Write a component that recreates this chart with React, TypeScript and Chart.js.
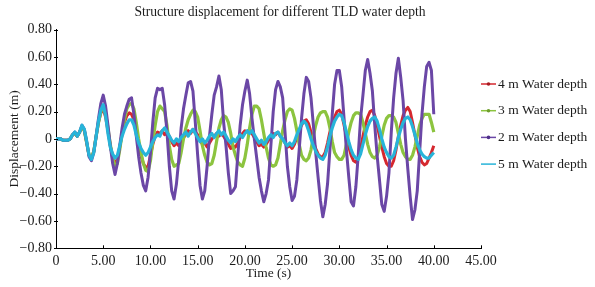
import React, { useEffect, useRef } from "react";
import Chart from "chart.js/auto";

const TITLE = "Structure displacement for different TLD water depth";
const X_TITLE = "Time (s)";
const Y_TITLE = "Displacement (m)";
const SERIES_NAMES = ["4 m Water depth", "3 m Water depth", "2 m Water depth", "5 m Water depth"];
const SERIES_COLORS = ["#d5282f", "#8cc43f", "#6b47a6", "#27b4d9"];
const MARKER_COLORS = ["#a81c22", "#6f9e2c", "#4f2f8a", "#27b4d9"];

const times = [
  0, 0.25, 0.5, 0.75, 1, 1.25, 1.5, 1.75,
  2, 2.25, 2.5, 2.75, 3, 3.25, 3.5, 3.75,
  4, 4.25, 4.5, 4.75, 5, 5.25, 5.5, 5.75,
  6, 6.25, 6.5, 6.75, 7, 7.25, 7.5, 7.75,
  8, 8.25, 8.5, 8.75, 9, 9.25, 9.5, 9.75,
  10, 10.25, 10.5, 10.75, 11, 11.25, 11.5, 11.75,
  12, 12.25, 12.5, 12.75, 13, 13.25, 13.5, 13.75,
  14, 14.25, 14.5, 14.75, 15, 15.25, 15.5, 15.75,
  16, 16.25, 16.5, 16.75, 17, 17.25, 17.5, 17.75,
  18, 18.25, 18.5, 18.75, 19, 19.25, 19.5, 19.75,
  20, 20.25, 20.5, 20.75, 21, 21.25, 21.5, 21.75,
  22, 22.25, 22.5, 22.75, 23, 23.25, 23.5, 23.75,
  24, 24.25, 24.5, 24.75, 25, 25.25, 25.5, 25.75,
  26, 26.25, 26.5, 26.75, 27, 27.25, 27.5, 27.75,
  28, 28.25, 28.5, 28.75, 29, 29.25, 29.5, 29.75,
  30, 30.25, 30.5, 30.75, 31, 31.25, 31.5, 31.75,
  32, 32.25, 32.5, 32.75, 33, 33.25, 33.5, 33.75,
  34, 34.25, 34.5, 34.75, 35, 35.25, 35.5, 35.75,
  36, 36.25, 36.5, 36.75, 37, 37.25, 37.5, 37.75,
  38, 38.25, 38.5, 38.75, 39, 39.25, 39.5, 39.75,
  40,
];

const depth4m = [
  0.00, 0.00, 0.00, -0.01, -0.01, -0.01, 0.00, 0.03,
  0.04, 0.02, 0.05, 0.09, 0.06, -0.03, -0.12, -0.14,
  -0.09, 0.02, 0.12, 0.19, 0.22, 0.16, 0.06, -0.05,
  -0.13, -0.18, -0.15, -0.06, 0.04, 0.12, 0.17, 0.19,
  0.18, 0.14, 0.06, -0.04, -0.12, -0.18, -0.21, -0.20,
  -0.12, -0.04, 0.02, 0.05, 0.04, 0.06, 0.03, 0.05,
  0.02, -0.02, -0.05, -0.03, -0.05, -0.02, 0.01, 0.03,
  0.06, 0.04, 0.07, 0.05, 0.03, -0.01, -0.04, -0.03,
  -0.06, -0.03, 0.00, 0.02, 0.04, 0.02, 0.04, 0.02,
  -0.01, -0.04, -0.07, -0.05, -0.06, -0.03, 0.01, 0.04,
  0.06, 0.05, 0.07, 0.04, 0.01, -0.02, -0.05, -0.04,
  -0.06, -0.04, -0.01, 0.02, 0.04, 0.03, 0.05, 0.02,
  0.00, -0.03, -0.06, -0.05, -0.07, -0.04, 0.01, 0.06,
  0.10, 0.13, 0.14, 0.11, 0.05, -0.02, -0.07, -0.11,
  -0.13, -0.13, -0.10, -0.03, 0.05, 0.11, 0.16, 0.20,
  0.21, 0.18, 0.10, 0.02, -0.06, -0.12, -0.16, -0.17,
  -0.14, -0.07, 0.02, 0.10, 0.16, 0.20, 0.21, 0.17,
  0.10, 0.02, -0.06, -0.13, -0.18, -0.20, -0.20, -0.16,
  -0.08, 0.02, 0.10, 0.17, 0.21, 0.23, 0.20, 0.12,
  0.03, -0.06, -0.13, -0.17, -0.19, -0.18, -0.14, -0.10,
  -0.05,
];

const depth3m = [
  0.00, 0.00, 0.00, -0.01, -0.01, -0.01, 0.00, 0.03,
  0.04, 0.02, 0.05, 0.09, 0.06, -0.03, -0.12, -0.14,
  -0.09, 0.02, 0.12, 0.20, 0.24, 0.18, 0.08, -0.04,
  -0.14, -0.20, -0.18, -0.08, 0.04, 0.14, 0.22, 0.25,
  0.26, 0.22, 0.12, 0.00, -0.10, -0.18, -0.23, -0.24,
  -0.16, -0.02, 0.10, 0.20, 0.24, 0.22, 0.20, 0.10,
  -0.05, -0.15, -0.20, -0.19, -0.18, -0.10, 0.00, 0.08,
  0.14, 0.18, 0.21, 0.20, 0.16, 0.06, -0.05, -0.12,
  -0.17, -0.19, -0.18, -0.12, -0.02, 0.08, 0.14, 0.17,
  0.16, 0.12, 0.04, -0.06, -0.12, -0.17, -0.19, -0.20,
  -0.14, -0.04, 0.08, 0.18, 0.24, 0.24, 0.22, 0.14,
  0.04, -0.06, -0.14, -0.19, -0.20, -0.19, -0.14, -0.04,
  0.06, 0.14, 0.20, 0.22, 0.21, 0.15, 0.06, -0.04,
  -0.12, -0.15, -0.16, -0.14, -0.08, 0.02, 0.10, 0.16,
  0.19, 0.20, 0.20, 0.16, 0.08, -0.02, -0.10, -0.13,
  -0.15, -0.15, -0.12, -0.04, 0.05, 0.12, 0.17, 0.19,
  0.19, 0.18, 0.12, 0.04, -0.04, -0.10, -0.13, -0.14,
  -0.12, -0.06, 0.02, 0.10, 0.15, 0.17, 0.17, 0.16,
  0.12, 0.04, -0.04, -0.10, -0.13, -0.15, -0.15, -0.12,
  -0.06, 0.02, 0.10, 0.15, 0.18, 0.18, 0.18, 0.12,
  0.05,
];

const depth2m = [
  0.00, 0.00, 0.00, -0.01, -0.01, -0.01, 0.00, 0.03,
  0.05, 0.02, 0.05, 0.10, 0.07, -0.02, -0.13, -0.16,
  -0.10, 0.02, 0.15, 0.26, 0.32, 0.24, 0.10, -0.05,
  -0.18, -0.26, -0.18, -0.05, 0.08, 0.18, 0.24, 0.29,
  0.30, 0.18, 0.02, -0.13, -0.25, -0.34, -0.38, -0.28,
  -0.10, 0.12, 0.30, 0.37, 0.36, 0.37, 0.25, 0.05,
  -0.20, -0.38, -0.44, -0.33, -0.15, 0.08, 0.22, 0.32,
  0.41, 0.42, 0.35, 0.12, -0.12, -0.34, -0.44, -0.38,
  -0.20, 0.02, 0.18, 0.32, 0.38, 0.46, 0.36, 0.12,
  -0.05, -0.25, -0.40, -0.38, -0.35, -0.12, 0.10, 0.25,
  0.35, 0.43, 0.33, 0.15, 0.00, -0.14, -0.28, -0.38,
  -0.46, -0.40, -0.30, -0.05, 0.20, 0.36, 0.42, 0.38,
  0.30, 0.05, -0.20, -0.35, -0.45, -0.42, -0.30, -0.08,
  0.15, 0.33, 0.45, 0.42, 0.30, 0.10, -0.10, -0.28,
  -0.45, -0.57, -0.48, -0.33, -0.08, 0.18, 0.40, 0.50,
  0.50, 0.38, 0.15, -0.08, -0.28, -0.46, -0.49, -0.35,
  -0.12, 0.15, 0.32, 0.50, 0.58, 0.48, 0.35, 0.10,
  -0.12, -0.30, -0.48, -0.53, -0.42, -0.25, 0.05, 0.30,
  0.48, 0.59, 0.45, 0.28, 0.00, -0.22, -0.42, -0.59,
  -0.52, -0.38, -0.10, 0.18, 0.38, 0.53, 0.56, 0.50,
  0.18,
];

const depth5m = [
  0.00, 0.00, 0.00, -0.01, -0.01, -0.01, 0.00, 0.03,
  0.05, 0.02, 0.05, 0.10, 0.07, -0.02, -0.12, -0.15,
  -0.10, 0.02, 0.13, 0.21, 0.25, 0.17, 0.04, -0.06,
  -0.11, -0.14, -0.12, -0.05, 0.02, 0.07, 0.11, 0.14,
  0.14, 0.10, 0.03, -0.03, -0.07, -0.10, -0.12, -0.10,
  -0.06, -0.02, 0.01, 0.03, 0.02, 0.06, 0.08, 0.05,
  0.02, -0.01, -0.03, 0.00, -0.02, 0.01, 0.03, 0.05,
  0.02, 0.05, 0.07, 0.04, 0.01, -0.02, 0.00, -0.03,
  -0.01, 0.02, 0.04, 0.01, 0.04, 0.06, 0.03, 0.05,
  0.02, -0.01, -0.03, 0.00, -0.02, 0.01, 0.03, 0.01,
  0.04, 0.06, 0.04, 0.06, 0.03, 0.00, -0.03, -0.01,
  -0.04, -0.02, 0.01, 0.03, 0.01, 0.04, 0.05, 0.02,
  0.00, -0.03, -0.05, -0.03, -0.05, -0.02, 0.03, 0.07,
  0.11, 0.13, 0.11, 0.06, 0.00, -0.05, -0.09, -0.12,
  -0.14, -0.15, -0.12, -0.06, 0.02, 0.08, 0.13, 0.16,
  0.18, 0.17, 0.12, 0.05, -0.02, -0.08, -0.12, -0.14,
  -0.15, -0.11, -0.04, 0.03, 0.09, 0.13, 0.15, 0.16,
  0.13, 0.07, 0.00, -0.06, -0.10, -0.13, -0.14, -0.12,
  -0.06, 0.01, 0.07, 0.12, 0.15, 0.16, 0.14, 0.09,
  0.03, -0.03, -0.08, -0.11, -0.13, -0.14, -0.14, -0.12,
  -0.10,
];

const SERIES = [depth4m, depth3m, depth2m, depth5m];
const SERIES_ORDER = [4, 3, 2, 1];
const LINE_WIDTHS = [3, 3.2, 3, 3.2];

const X_MIN = 0, X_MAX = 45, X_STEP = 5;
const Y_MIN = -0.8, Y_MAX = 0.8, Y_STEP = 0.2;

const FONT = '"Liberation Serif", "Times New Roman", serif';
const TEXT = "#1c1c1c";

const overlay = {
  id: "overlay",
  afterDraw(chart: any) {
    const { ctx, chartArea, scales } = chart;
    const xs = scales.x;
    const ys = scales.y;
    ctx.save();
    ctx.strokeStyle = "#000";
    ctx.lineWidth = 1;
    ctx.beginPath();
    xs.ticks.forEach((t: any) => {
      const px = Math.round(xs.getPixelForValue(t.value)) + 0.5;
      ctx.moveTo(px, chartArea.bottom);
      ctx.lineTo(px, chartArea.bottom - 3);
    });
    ys.ticks.forEach((t: any) => {
      const py = Math.round(ys.getPixelForValue(t.value)) + 0.5;
      ctx.moveTo(chartArea.left - 2, py);
      ctx.lineTo(chartArea.left + 2, py);
    });
    ctx.stroke();

    ctx.fillStyle = TEXT;
    ctx.textBaseline = "middle";
    ctx.textAlign = "center";
    ctx.font = `13.6px ${FONT}`;
    ctx.fillText(TITLE, 280, 12);

    ctx.font = `13.5px ${FONT}`;
    ctx.fillText(X_TITLE, (chartArea.left + chartArea.right) / 2, 273);

    ctx.save();
    ctx.translate(14, (chartArea.top + chartArea.bottom) / 2);
    ctx.rotate(-Math.PI / 2);
    ctx.fillText(Y_TITLE, 0, 0);
    ctx.restore();

    // legend
    const lx = chartArea.right;
    const ly0 = 84;
    const gap = 26.7;
    ctx.textAlign = "left";
    SERIES_NAMES.forEach((name, i) => {
      const y = ly0 + i * gap;
      ctx.strokeStyle = SERIES_COLORS[i];
      ctx.lineWidth = 1.5;
      ctx.beginPath();
      ctx.moveTo(lx, y);
      ctx.lineTo(lx + 15, y);
      ctx.stroke();
      if (i < 3) {
        ctx.fillStyle = MARKER_COLORS[i];
        ctx.beginPath();
        ctx.arc(lx + 7.5, y, 1.8, 0, Math.PI * 2);
        ctx.fill();
      }
      ctx.fillStyle = TEXT;
      ctx.fillText(name, lx + 17, y);
    });
    ctx.restore();
  },
};

export default function App() {
  const ref = useRef<HTMLCanvasElement | null>(null);

  useEffect(() => {
    document.body.style.margin = "0";
    document.body.style.background = "#ffffff";
    const canvas = ref.current;
    if (!canvas) return;
    const datasets = SERIES.map((vals, i) => ({
      label: SERIES_NAMES[i],
      data: times.map((t, j) => ({ x: t, y: vals[j] })),
      borderColor: SERIES_COLORS[i],
      backgroundColor: SERIES_COLORS[i],
      borderWidth: LINE_WIDTHS[i],
      pointRadius: 0,
      tension: 0,
      borderJoinStyle: "round" as const,
      order: SERIES_ORDER[i],
    }));
    const chart = new Chart(canvas, {
      type: "line",
      data: { datasets },
      options: {
        animation: false,
        responsive: false,
        devicePixelRatio: 1,
        layout: { padding: { top: 29.5, left: 0, right: 114, bottom: 0 } },
        plugins: {
          legend: { display: false },
          title: { display: false },
          tooltip: { enabled: false },
        },
        scales: {
          x: {
            type: "linear",
            min: X_MIN,
            max: X_MAX,
            grid: { display: false, drawTicks: false },
            border: { display: true, color: "#000", width: 1 },
            ticks: {
              stepSize: X_STEP,
              padding: 5,
              color: TEXT,
              maxRotation: 0,
              font: { family: FONT, size: 14 },
              callback: (v: any) => (Number(v) === 0 ? "0" : Number(v).toFixed(2)),
            },
            afterFit: (s: any) => {
              s.height = 38.7;
            },
          },
          y: {
            type: "linear",
            min: Y_MIN,
            max: Y_MAX,
            grid: { display: false, drawTicks: false },
            border: { display: true, color: "#000", width: 1 },
            ticks: {
              stepSize: Y_STEP,
              padding: 4,
              color: TEXT,
              font: { family: FONT, size: 14 },
              callback: (v: any) => {
                const n = Math.round(Number(v) * 100) / 100;
                if (n === 0) return "0";
                return (n < 0 ? "\u2212" : "") + Math.abs(n).toFixed(2);
              },
            },
            afterFit: (s: any) => {
              s.width = 56;
            },
          },
        },
      },
      plugins: [overlay],
    });
    return () => chart.destroy();
  }, []);

  return <canvas ref={ref} width={595} height={287} style={{ display: "block" }} />;
}
